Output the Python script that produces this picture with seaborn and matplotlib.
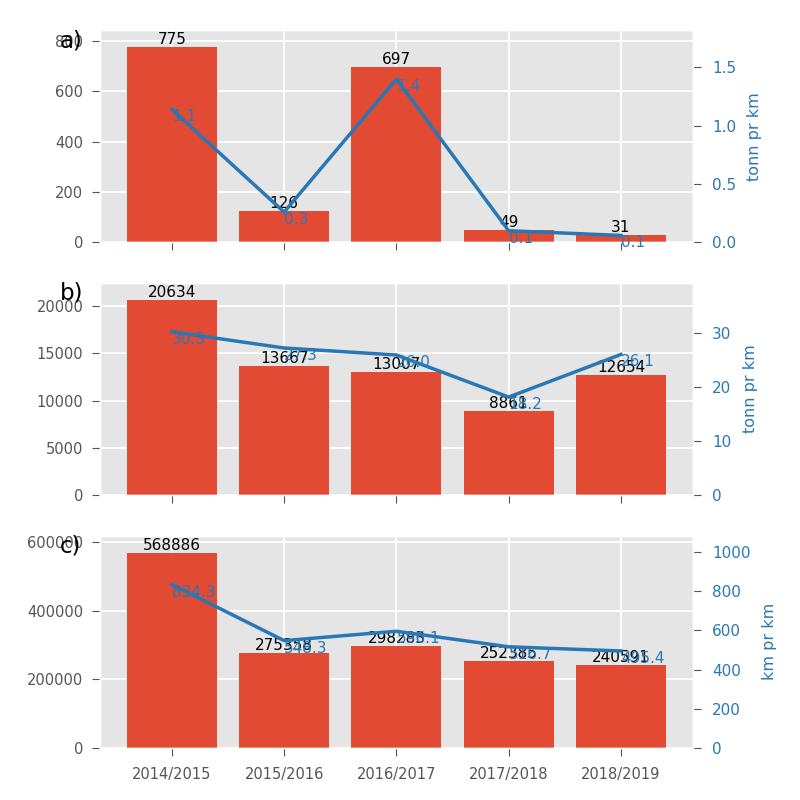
import matplotlib
matplotlib.use("Agg")
import matplotlib.pyplot as plt
from matplotlib.ticker import MultipleLocator
import seaborn as sns
import numpy as np
import pandas as pd

seasons = ["2014/2015", "2015/2016", "2016/2017", "2017/2018", "2018/2019"]

bars_a = [775, 126, 697, 49, 31]
line_a = [1.14, 0.26, 1.40, 0.10, 0.06]

bars_b = [20634, 13667, 13007, 8861, 12654]
line_b = [30.3, 27.3, 26.0, 18.2, 26.1]

bars_c = [568886, 275358, 298283, 252385, 240591]
line_c = [834.3, 548.3, 596.1, 516.7, 495.4]

panel_labels = ["a)", "b)", "c)"]
right_labels = ["tonn pr km", "tonn pr km", "km pr km"]
left_steps = [200, 5000, 200000]
right_steps = [0.5, 10, 200]

plt.style.use("ggplot")
BAR = "#E24A33"
LINE = "#2878b5"
NARROW = ["Liberation Sans Narrow", "DejaVu Sans"]

fig, axes = plt.subplots(3, 1, figsize=(8, 8), dpi=100, sharex=True)
fig.subplots_adjust(left=0.125, right=0.866, bottom=0.065, top=0.9625, hspace=0.19)

pos = np.arange(len(seasons))
datasets = [(bars_a, line_a), (bars_b, line_b), (bars_c, line_c)]

for i, (ax, (bv, lv)) in enumerate(zip(axes, datasets)):
    df = pd.DataFrame({"season": seasons, "val": bv})
    sns.barplot(data=df, x="season", y="val", ax=ax, color=BAR, saturation=1, width=0.8)
    ax.set_xlim(-0.64, len(seasons) - 1 + 0.64)
    ax.set_ylim(0, max(bv) * 1.087)
    ax.yaxis.set_major_locator(MultipleLocator(left_steps[i]))
    ax.grid(True, axis="both", color="white", lw=1.3)
    ax.set_axisbelow(True)
    ax.set_xlabel("")
    ax.set_ylabel("")
    ax.tick_params(axis="both", labelsize=10.5, colors="#555555", length=6, pad=6)
    for p, v in zip(pos, bv):
        ax.text(p, v, f"{v}", ha="center", va="bottom", fontsize=11, color="black")
    ax.text(-0.068, 0.95, panel_labels[i], transform=ax.transAxes, fontsize=16.5,
            ha="left", va="center", color="black")

    ax2 = ax.twinx()
    ax2.grid(False)
    sns.lineplot(x=pos, y=lv, ax=ax2, color=LINE, lw=2.5)
    ax2.set_ylim(0, max(lv) * 1.3)
    ax2.yaxis.set_major_locator(MultipleLocator(right_steps[i]))
    ax2.set_ylabel(right_labels[i], color=LINE, fontsize=11.5, family=NARROW, labelpad=8)
    ax2.tick_params(axis="y", labelcolor=LINE, color="#555555", labelsize=11, length=6, pad=8)
    for p, v in zip(pos, lv):
        ax2.text(p, v, f"{v:.1f}", ha="left", va="top", fontsize=11, color=LINE)

axes[-1].set_xticks(pos)
axes[-1].set_xticklabels(seasons)
axes[-1].tick_params(axis="x", labelsize=10.5, colors="#555555", pad=8)

fig.savefig("out.png", dpi=100)
